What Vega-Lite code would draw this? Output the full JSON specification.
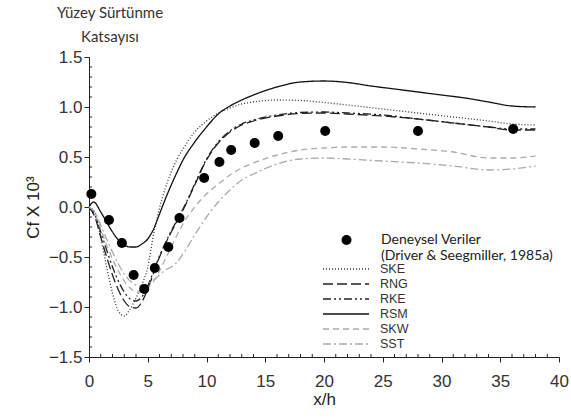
{
  "$schema": "https://vega.github.io/schema/vega-lite/v6.json",
  "width": 470,
  "height": 300,
  "autosize": "none",
  "padding": {"left": 89, "top": 57, "right": 12, "bottom": 62},
  "background": "white",
  "config": {"view": {"stroke": null}, "font": "Liberation Sans"},
  "title": {
    "text": ["Yüzey Sürtünme", "Katsayısı"],
    "anchor": "start",
    "align": "center",
    "frame": "group",
    "dx": 21,
    "dy": 24,
    "baseline": "bottom",
    "offset": 12,
    "lineHeight": 24,
    "font": "Lato",
    "fontSize": 15,
    "fontWeight": "normal",
    "color": "#333"
  },
  "datasets": {
    "curves": [
      {"model":"RSM","x":0,"y":0},{"model":"RSM","x":0.4,"y":0.05},{"model":"RSM","x":1,"y":-0.05},{"model":"RSM","x":1.5,"y":-0.15},{"model":"RSM","x":2,"y":-0.25},{"model":"RSM","x":2.5,"y":-0.33},{"model":"RSM","x":3,"y":-0.38},{"model":"RSM","x":3.5,"y":-0.4},{"model":"RSM","x":4,"y":-0.4},{"model":"RSM","x":4.5,"y":-0.37},{"model":"RSM","x":5,"y":-0.32},{"model":"RSM","x":5.5,"y":-0.22},{"model":"RSM","x":6,"y":-0.07},{"model":"RSM","x":6.5,"y":0.08},{"model":"RSM","x":7,"y":0.22},{"model":"RSM","x":7.5,"y":0.35},{"model":"RSM","x":8,"y":0.47},{"model":"RSM","x":9,"y":0.65},{"model":"RSM","x":10,"y":0.8},{"model":"RSM","x":11,"y":0.93},{"model":"RSM","x":12,"y":1.01},{"model":"RSM","x":13,"y":1.07},{"model":"RSM","x":14,"y":1.12},{"model":"RSM","x":16,"y":1.2},{"model":"RSM","x":18,"y":1.25},{"model":"RSM","x":20,"y":1.26},{"model":"RSM","x":22,"y":1.245},{"model":"RSM","x":24,"y":1.21},{"model":"RSM","x":26,"y":1.18},{"model":"RSM","x":28,"y":1.15},{"model":"RSM","x":30,"y":1.12},{"model":"RSM","x":32,"y":1.09},{"model":"RSM","x":34,"y":1.05},{"model":"RSM","x":36,"y":1.01},{"model":"RSM","x":38,"y":1.0},
      {"model":"SKE","x":0,"y":0},{"model":"SKE","x":0.5,"y":-0.06},{"model":"SKE","x":1,"y":-0.3},{"model":"SKE","x":1.5,"y":-0.6},{"model":"SKE","x":2,"y":-0.86},{"model":"SKE","x":2.5,"y":-1.04},{"model":"SKE","x":3,"y":-1.09},{"model":"SKE","x":3.5,"y":-1.02},{"model":"SKE","x":4,"y":-0.91},{"model":"SKE","x":4.5,"y":-0.78},{"model":"SKE","x":5,"y":-0.6},{"model":"SKE","x":5.5,"y":-0.27},{"model":"SKE","x":6,"y":-0.01},{"model":"SKE","x":6.5,"y":0.19},{"model":"SKE","x":7,"y":0.35},{"model":"SKE","x":7.5,"y":0.48},{"model":"SKE","x":8,"y":0.58},{"model":"SKE","x":9,"y":0.75},{"model":"SKE","x":10,"y":0.86},{"model":"SKE","x":11,"y":0.94},{"model":"SKE","x":12,"y":0.99},{"model":"SKE","x":13,"y":1.03},{"model":"SKE","x":14,"y":1.05},{"model":"SKE","x":16,"y":1.07},{"model":"SKE","x":18,"y":1.065},{"model":"SKE","x":20,"y":1.045},{"model":"SKE","x":22,"y":1.02},{"model":"SKE","x":25,"y":0.98},{"model":"SKE","x":28,"y":0.94},{"model":"SKE","x":31,"y":0.9},{"model":"SKE","x":34,"y":0.86},{"model":"SKE","x":36,"y":0.83},{"model":"SKE","x":38,"y":0.82},
      {"model":"RNG","x":0,"y":0},{"model":"RNG","x":0.5,"y":-0.1},{"model":"RNG","x":1,"y":-0.3},{"model":"RNG","x":1.5,"y":-0.5},{"model":"RNG","x":2,"y":-0.68},{"model":"RNG","x":2.5,"y":-0.83},{"model":"RNG","x":3,"y":-0.94},{"model":"RNG","x":3.5,"y":-1.0},{"model":"RNG","x":4,"y":-1.01},{"model":"RNG","x":4.5,"y":-0.95},{"model":"RNG","x":5,"y":-0.82},{"model":"RNG","x":5.5,"y":-0.66},{"model":"RNG","x":6,"y":-0.5},{"model":"RNG","x":6.5,"y":-0.37},{"model":"RNG","x":7,"y":-0.25},{"model":"RNG","x":7.5,"y":-0.14},{"model":"RNG","x":8,"y":-0.03},{"model":"RNG","x":9,"y":0.22},{"model":"RNG","x":10,"y":0.47},{"model":"RNG","x":11,"y":0.64},{"model":"RNG","x":12,"y":0.75},{"model":"RNG","x":13,"y":0.82},{"model":"RNG","x":14,"y":0.86},{"model":"RNG","x":16,"y":0.91},{"model":"RNG","x":18,"y":0.935},{"model":"RNG","x":20,"y":0.94},{"model":"RNG","x":22,"y":0.93},{"model":"RNG","x":25,"y":0.91},{"model":"RNG","x":28,"y":0.88},{"model":"RNG","x":31,"y":0.84},{"model":"RNG","x":34,"y":0.8},{"model":"RNG","x":36,"y":0.77},{"model":"RNG","x":38,"y":0.77},
      {"model":"RKE","x":0,"y":0},{"model":"RKE","x":0.5,"y":-0.08},{"model":"RKE","x":1,"y":-0.25},{"model":"RKE","x":1.5,"y":-0.43},{"model":"RKE","x":2,"y":-0.6},{"model":"RKE","x":2.5,"y":-0.74},{"model":"RKE","x":3,"y":-0.85},{"model":"RKE","x":3.5,"y":-0.92},{"model":"RKE","x":4,"y":-0.94},{"model":"RKE","x":4.5,"y":-0.9},{"model":"RKE","x":5,"y":-0.79},{"model":"RKE","x":5.5,"y":-0.64},{"model":"RKE","x":6,"y":-0.49},{"model":"RKE","x":6.5,"y":-0.36},{"model":"RKE","x":7,"y":-0.24},{"model":"RKE","x":7.5,"y":-0.13},{"model":"RKE","x":8,"y":-0.02},{"model":"RKE","x":9,"y":0.23},{"model":"RKE","x":10,"y":0.48},{"model":"RKE","x":11,"y":0.65},{"model":"RKE","x":12,"y":0.76},{"model":"RKE","x":13,"y":0.83},{"model":"RKE","x":14,"y":0.87},{"model":"RKE","x":16,"y":0.92},{"model":"RKE","x":18,"y":0.945},{"model":"RKE","x":20,"y":0.95},{"model":"RKE","x":22,"y":0.94},{"model":"RKE","x":25,"y":0.92},{"model":"RKE","x":28,"y":0.88},{"model":"RKE","x":31,"y":0.84},{"model":"RKE","x":34,"y":0.8},{"model":"RKE","x":36,"y":0.78},{"model":"RKE","x":38,"y":0.78},
      {"model":"SKW","x":0,"y":0},{"model":"SKW","x":0.5,"y":-0.06},{"model":"SKW","x":1,"y":-0.22},{"model":"SKW","x":1.5,"y":-0.38},{"model":"SKW","x":2,"y":-0.52},{"model":"SKW","x":2.5,"y":-0.64},{"model":"SKW","x":3,"y":-0.74},{"model":"SKW","x":3.5,"y":-0.81},{"model":"SKW","x":4,"y":-0.85},{"model":"SKW","x":4.5,"y":-0.85},{"model":"SKW","x":5,"y":-0.81},{"model":"SKW","x":5.5,"y":-0.74},{"model":"SKW","x":6,"y":-0.64},{"model":"SKW","x":6.5,"y":-0.52},{"model":"SKW","x":7,"y":-0.4},{"model":"SKW","x":7.5,"y":-0.28},{"model":"SKW","x":8,"y":-0.17},{"model":"SKW","x":9,"y":0.0},{"model":"SKW","x":10,"y":0.13},{"model":"SKW","x":11,"y":0.23},{"model":"SKW","x":12,"y":0.32},{"model":"SKW","x":13,"y":0.39},{"model":"SKW","x":14,"y":0.44},{"model":"SKW","x":16,"y":0.52},{"model":"SKW","x":18,"y":0.57},{"model":"SKW","x":20,"y":0.59},{"model":"SKW","x":22,"y":0.6},{"model":"SKW","x":25,"y":0.6},{"model":"SKW","x":28,"y":0.58},{"model":"SKW","x":31,"y":0.55},{"model":"SKW","x":34,"y":0.49},{"model":"SKW","x":36,"y":0.49},{"model":"SKW","x":38,"y":0.51},
      {"model":"SST","x":0,"y":0},{"model":"SST","x":0.5,"y":-0.05},{"model":"SST","x":1,"y":-0.18},{"model":"SST","x":1.5,"y":-0.32},{"model":"SST","x":2,"y":-0.45},{"model":"SST","x":2.5,"y":-0.57},{"model":"SST","x":3,"y":-0.67},{"model":"SST","x":3.5,"y":-0.74},{"model":"SST","x":4,"y":-0.78},{"model":"SST","x":4.5,"y":-0.79},{"model":"SST","x":5,"y":-0.77},{"model":"SST","x":5.5,"y":-0.73},{"model":"SST","x":6,"y":-0.68},{"model":"SST","x":6.5,"y":-0.63},{"model":"SST","x":7,"y":-0.6},{"model":"SST","x":7.5,"y":-0.55},{"model":"SST","x":8,"y":-0.47},{"model":"SST","x":9,"y":-0.28},{"model":"SST","x":10,"y":-0.1},{"model":"SST","x":11,"y":0.05},{"model":"SST","x":12,"y":0.17},{"model":"SST","x":13,"y":0.27},{"model":"SST","x":14,"y":0.33},{"model":"SST","x":16,"y":0.43},{"model":"SST","x":18,"y":0.48},{"model":"SST","x":20,"y":0.49},{"model":"SST","x":22,"y":0.48},{"model":"SST","x":25,"y":0.46},{"model":"SST","x":28,"y":0.44},{"model":"SST","x":31,"y":0.41},{"model":"SST","x":34,"y":0.37},{"model":"SST","x":36,"y":0.38},{"model":"SST","x":38,"y":0.41}
    ],
    "pts": [
      {"src":"Deneysel Veriler","x":0.2,"y":0.13},{"src":"Deneysel Veriler","x":1.7,"y":-0.13},{"src":"Deneysel Veriler","x":2.8,"y":-0.36},{"src":"Deneysel Veriler","x":3.8,"y":-0.68},{"src":"Deneysel Veriler","x":4.7,"y":-0.82},{"src":"Deneysel Veriler","x":5.6,"y":-0.61},{"src":"Deneysel Veriler","x":6.75,"y":-0.4},{"src":"Deneysel Veriler","x":7.7,"y":-0.11},{"src":"Deneysel Veriler","x":9.8,"y":0.29},{"src":"Deneysel Veriler","x":11.1,"y":0.45},{"src":"Deneysel Veriler","x":12.1,"y":0.57},{"src":"Deneysel Veriler","x":14.1,"y":0.64},{"src":"Deneysel Veriler","x":16.1,"y":0.71},{"src":"Deneysel Veriler","x":20.1,"y":0.76},{"src":"Deneysel Veriler","x":28.0,"y":0.76},{"src":"Deneysel Veriler","x":36.1,"y":0.78}
    ],
    "xminor": [{"t":1},{"t":2},{"t":3},{"t":4},{"t":6},{"t":7},{"t":8},{"t":9},{"t":11},{"t":12},{"t":13},{"t":14},{"t":16},{"t":17},{"t":18},{"t":19},{"t":21},{"t":22},{"t":23},{"t":24},{"t":26},{"t":27},{"t":28},{"t":29},{"t":31},{"t":32},{"t":33},{"t":34},{"t":36},{"t":37},{"t":38},{"t":39}],
    "yminor": [{"t":-1.4},{"t":-1.3},{"t":-1.2},{"t":-1.1},{"t":-0.9},{"t":-0.8},{"t":-0.7},{"t":-0.6},{"t":-0.4},{"t":-0.3},{"t":-0.2},{"t":-0.1},{"t":0.1},{"t":0.2},{"t":0.3},{"t":0.4},{"t":0.6},{"t":0.7},{"t":0.8},{"t":0.9},{"t":1.1},{"t":1.2},{"t":1.3},{"t":1.4}]
  },
  "layer": [
    {
      "data": {"name": "xminor"},
      "mark": {"type": "rule", "color": "#222", "strokeWidth": 1},
      "encoding": {
        "x": {"field": "t", "type": "quantitative"},
        "y": {"datum": -1.5},
        "y2": {"datum": -1.47}
      }
    },
    {
      "data": {"name": "yminor"},
      "mark": {"type": "rule", "color": "#222", "strokeWidth": 1},
      "encoding": {
        "y": {"field": "t", "type": "quantitative"},
        "x": {"datum": 0},
        "x2": {"datum": 0.26}
      }
    },
    {
      "data": {"name": "curves"},
      "mark": {"type": "line", "interpolate": "monotone", "strokeWidth": 1.3},
      "encoding": {
        "x": {
          "field": "x", "type": "quantitative",
          "scale": {"domain": [0, 40], "nice": false, "zero": false},
          "axis": {
            "values": [0,5,10,15,20,25,30,35,40],
            "tickSize": 5,
            "labelFont": "Liberation Sans", "labelFontSize": 17, "labelColor": "#333", "labelPadding": 11,
            "labelFlush": false, "labelOverlap": false,
            "title": "x/h", "titleFont": "Liberation Sans", "titleFontSize": 17, "titleFontWeight": "normal", "titleColor": "#222", "titlePadding": 2,
            "domainColor": "#222", "tickColor": "#222", "grid": false
          }
        },
        "y": {
          "field": "y", "type": "quantitative",
          "scale": {"domain": [-1.5, 1.5], "nice": false, "zero": false},
          "axis": {
            "values": [-1.5,-1.0,-0.5,0,0.5,1.0,1.5],
            "format": ".1f",
            "tickSize": 5,
            "labelFont": "Liberation Sans", "labelFontSize": 17, "labelColor": "#333", "labelPadding": 2,
            "labelFlush": false, "labelOverlap": false,
            "title": "Cf X 10³", "titleFont": "Liberation Sans", "titleFontSize": 17, "titleFontWeight": "normal", "titleColor": "#222", "titlePadding": 6,
            "domainColor": "#222", "tickColor": "#222", "grid": false
          }
        },
        "color": {
          "field": "model", "type": "nominal",
          "scale": {"domain": ["SKE","RNG","RKE","RSM","SKW","SST"], "range": ["#333333","#222222","#222222","#111111","#aaaaaa","#aaaaaa"]},
          "legend": {"orient": "none", "legendX": 233, "legendY": 204.5, "title": null, "symbolType": "stroke", "symbolSize": 2116, "symbolStrokeWidth": 1.3, "clipHeight": 15, "rowPadding": 0, "labelOffset": 10, "labelFont": "Liberation Sans", "labelFontSize": 12.5, "labelColor": "#333", "padding": 0, "labelLimit": 300}
        },
        "strokeDash": {
          "field": "model", "type": "nominal",
          "scale": {"domain": ["SKE","RNG","RKE","RSM","SKW","SST"], "range": [[1,2],[10,4],[8,3,2,3,2,3],[1,0],[6,4],[8,3,2,3]]},
          "legend": {"orient": "none", "legendX": 233, "legendY": 204.5, "title": null, "symbolType": "stroke", "symbolSize": 2116, "symbolStrokeWidth": 1.3, "clipHeight": 15, "rowPadding": 0, "labelOffset": 10, "labelFont": "Liberation Sans", "labelFontSize": 12.5, "labelColor": "#333", "padding": 0, "labelLimit": 300}
        }
      }
    },
    {
      "data": {"name": "pts"},
      "mark": {"type": "point", "filled": true, "color": "#000", "opacity": 1, "size": 100},
      "encoding": {
        "x": {"field": "x", "type": "quantitative"},
        "y": {"field": "y", "type": "quantitative"},
        "shape": {
          "field": "src", "type": "nominal",
          "scale": {"range": ["circle"]},
          "legend": {"orient": "none", "legendX": 250.5, "legendY": 174.5, "title": null, "symbolSize": 100, "symbolFillColor": "#000", "symbolStrokeColor": "#000", "symbolStrokeWidth": 0, "labelExpr": "['Deneysel Veriler', '(Driver & Seegmiller, 1985a)']", "labelFont": "Lato", "labelFontSize": 14, "labelOffset": 27.5, "clipHeight": 17, "padding": 0, "labelColor": "#222", "labelLimit": 300}
        }
      }
    }
  ]
}
